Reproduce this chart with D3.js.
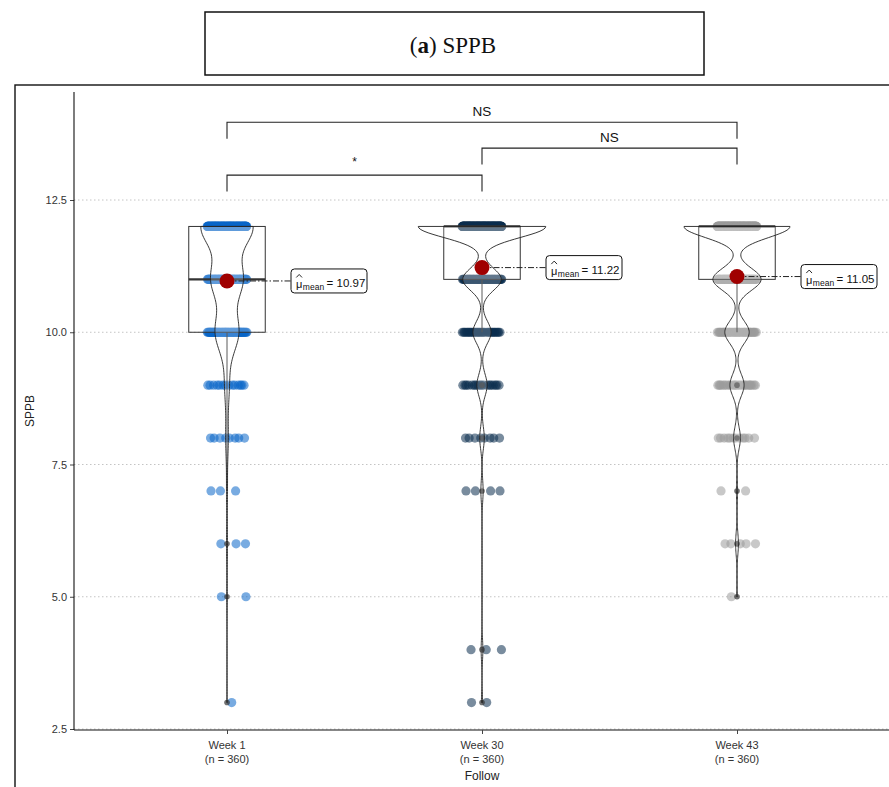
<!DOCTYPE html>
<html><head><meta charset="utf-8">
<script src="https://cdn.jsdelivr.net/npm/d3@7"></script>
<style>body{margin:0;background:#fff} svg{display:block}</style>
</head><body>
<svg id="c" width="889" height="787"></svg>
<script>
// ---------------- data ----------------
const categories = ["Week 1", "Week 30", "Week 43"];
const sampleSizes = [360, 360, 360];
const scoreLevels = [3, 4, 5, 6, 7, 8, 9, 10, 11, 12];
const countsWeek1  = [1, 0, 2, 3, 3, 8, 14, 72, 97, 160];
const countsWeek30 = [2, 3, 0, 0, 4, 8, 18, 32, 68, 225];
const countsWeek43 = [0, 0, 1, 5, 2, 12, 25, 43, 85, 187];
const yTicks = [2.5, 5.0, 7.5, 10.0, 12.5];
const comparisonPairs = [["Week 1", "Week 43"], ["Week 30", "Week 43"], ["Week 1", "Week 30"]];
const comparisonLabels = ["NS", "NS", "*"];
const groupColors = ["#0A66C8", "#0B2D4F", "#9A9A9A"];

// ---------------- setup ----------------
const svg = d3.select("#c");
const sans = "'Liberation Sans', Arial, sans-serif";
const countsAll = [countsWeek1, countsWeek30, countsWeek43];

const x = d3.scalePoint().domain(categories).range([74, 890]).padding(0.6);
const step = x.step();
const y = d3.scaleLinear().domain([2.5, 12.5]).range([729, 200]);

// title box
svg.append("rect").attr("x", 205).attr("y", 12).attr("width", 499).attr("height", 63)
  .attr("fill", "none").attr("stroke", "#111").attr("stroke-width", 1.5);
const title = svg.append("text").attr("x", 453).attr("y", 53).attr("text-anchor", "middle")
  .attr("font-family", "'Liberation Serif', 'DejaVu Serif', serif").attr("font-size", 23).attr("fill", "#111");
title.append("tspan").text("(");
title.append("tspan").attr("font-weight", "bold").text("a");
title.append("tspan").text(") SPPB");

// outer frame
svg.append("rect").attr("x", 15).attr("y", 85).attr("width", 900).attr("height", 760)
  .attr("fill", "none").attr("stroke", "#111").attr("stroke-width", 1.4);

// grid
svg.append("g").selectAll("line").data(yTicks).join("line")
  .attr("x1", 74).attr("x2", 890).attr("y1", d => y(d)).attr("y2", d => y(d))
  .attr("stroke", "#c4c4c4").attr("stroke-width", 1).attr("stroke-dasharray", "1.5,2.5");

// axes
const yAxis = svg.append("g").attr("transform", "translate(74,0)")
  .call(d3.axisLeft(y).tickValues(yTicks).tickFormat(d3.format(".1f")).tickSize(4).tickPadding(3));
yAxis.select(".domain").remove();
yAxis.selectAll("line").attr("stroke", "#444");
yAxis.selectAll("text").attr("font-family", sans).attr("font-size", 11).attr("fill", "#333");
svg.append("line").attr("x1", 74).attr("x2", 74).attr("y1", 92).attr("y2", 730).attr("stroke", "#111").attr("stroke-width", 1.1);
svg.append("line").attr("x1", 74).attr("x2", 890).attr("y1", 730).attr("y2", 730).attr("stroke", "#111").attr("stroke-width", 1.1);

const xAxis = svg.append("g").attr("transform", "translate(0,730)")
  .call(d3.axisBottom(x).tickSize(4).tickFormat(""));
xAxis.select(".domain").remove();
xAxis.selectAll("line").attr("stroke", "#444");
categories.forEach((c, i) => {
  const t = svg.append("text").attr("x", x(c)).attr("text-anchor", "middle")
    .attr("font-family", sans).attr("font-size", 11).attr("fill", "#333");
  t.append("tspan").attr("x", x(c)).attr("y", 749).text(c);
  t.append("tspan").attr("x", x(c)).attr("y", 763).text(`(n = ${sampleSizes[i]})`);
});
svg.append("text").attr("x", x("Week 30")).attr("y", 780).attr("text-anchor", "middle")
  .attr("font-family", sans).attr("font-size", 12).attr("fill", "#222").text("Follow");
svg.append("text").attr("transform", "translate(34,411) rotate(-90)").attr("text-anchor", "middle")
  .attr("font-family", sans).attr("font-size", 12).attr("fill", "#222").text("SPPB");

// ---------------- stats ----------------
const groups = categories.map((c, gi) => {
  const vals = [];
  scoreLevels.forEach((v, k) => { for (let j = 0; j < countsAll[gi][k]; j++) vals.push(v); });
  vals.sort(d3.ascending);
  const q1 = d3.quantileSorted(vals, 0.25), med = d3.quantileSorted(vals, 0.5), q3 = d3.quantileSorted(vals, 0.75);
  const iqr = q3 - q1;
  const lo = d3.min(vals.filter(v => v >= q1 - 1.5 * iqr));
  const hi = d3.max(vals.filter(v => v <= q3 + 1.5 * iqr));
  const sd = d3.deviation(vals);
  const bw = 0.9 * Math.min(sd, iqr / 1.34) * Math.pow(vals.length, -0.2);
  const mn = d3.min(vals), mx = d3.max(vals);
  const grid = d3.range(0, 301).map(i => mn + (mx - mn) * i / 300);
  const dens = grid.map(t => d3.mean(vals, v => Math.exp(-0.5 * ((t - v) / bw) ** 2)) / (bw * Math.sqrt(2 * Math.PI)));
  return { c, gi, vals, q1, med, q3, lo, hi, mean: d3.mean(vals), grid, dens,
           outliers: scoreLevels.filter((v, k) => countsAll[gi][k] > 0 && (v < lo || v > hi)) };
});
const densMax = d3.max(groups, g => d3.max(g.dens));

// ---------------- jittered points ----------------
const jitterHalf = step * 0.078;
const pts = [];
groups.forEach(g => {
  scoreLevels.forEach((v, k) => {
    const n = countsAll[g.gi][k];
    for (let j = 0; j < n; j++) {
      const u = ((j + 1) * 0.6180339887 + k * 0.37) % 1;
      pts.push({ gi: g.gi, cx: x(g.c) + (u * 2 - 1) * jitterHalf, v });
    }
  });
});
svg.append("g").selectAll("circle").data(pts).join("circle")
  .attr("cx", d => d.cx).attr("cy", d => y(d.v)).attr("r", 4.6)
  .attr("fill", d => groupColors[d.gi]).attr("fill-opacity", 0.55);

// ---------------- boxplots ----------------
const boxHalf = step * 0.15;
const bx = svg.append("g");
groups.forEach(g => {
  const cx = x(g.c);
  bx.append("line").attr("x1", cx).attr("x2", cx).attr("y1", y(g.q1)).attr("y2", y(g.lo)).attr("stroke", "#333").attr("stroke-width", 1);
  bx.append("line").attr("x1", cx).attr("x2", cx).attr("y1", y(g.q3)).attr("y2", y(g.hi)).attr("stroke", "#333").attr("stroke-width", 1);
  bx.append("rect").attr("x", cx - boxHalf).attr("width", boxHalf * 2)
    .attr("y", y(g.q3)).attr("height", y(g.q1) - y(g.q3))
    .attr("fill", "#fff").attr("fill-opacity", 0.2).attr("stroke", "#333").attr("stroke-width", 1);
  bx.append("line").attr("x1", cx - boxHalf).attr("x2", cx + boxHalf).attr("y1", y(g.med)).attr("y2", y(g.med))
    .attr("stroke", "#333").attr("stroke-width", 2.2);
  g.outliers.forEach(v => {
    bx.append("circle").attr("cx", cx).attr("cy", y(v)).attr("r", 2.8).attr("fill", "#333").attr("fill-opacity", 0.7);
  });
});

// ---------------- violins ----------------
const violinHalf = step * 0.25;
groups.forEach(g => {
  const cx = x(g.c);
  const area = d3.area()
    .x0((d, i) => cx - g.dens[i] / densMax * violinHalf)
    .x1((d, i) => cx + g.dens[i] / densMax * violinHalf)
    .y(d => y(d));
  svg.append("path").attr("d", area(g.grid) + "")
    .attr("fill", "#fff").attr("fill-opacity", 0.2).attr("stroke", "#222").attr("stroke-width", 0.9);
});

// ---------------- means + labels ----------------
groups.forEach(g => {
  const cx = x(g.c), my = y(g.mean);
  const lx = cx + 64, lw = 76, lh = 24, ly = my - lh / 2;
  svg.append("line").attr("x1", cx).attr("x2", lx).attr("y1", my).attr("y2", my)
    .attr("stroke", "#222").attr("stroke-width", 1).attr("stroke-dasharray", "6,2,1.5,2");
  svg.append("circle").attr("cx", cx).attr("cy", my).attr("r", 7.5).attr("fill", "#A00000");
  svg.append("rect").attr("x", lx).attr("y", ly).attr("width", lw).attr("height", lh).attr("rx", 3.5)
    .attr("fill", "#fff").attr("stroke", "#111").attr("stroke-width", 1);
  const f = svg.append("g").attr("font-family", sans).attr("fill", "#111");
  const mu = f.append("text").attr("x", lx + 5).attr("y", ly + 19).attr("font-size", 11).text("μ");
  const muW = mu.node().getComputedTextLength();
  f.append("path").attr("d", `M${lx + 5.3},${ly + 8.5}l${muW / 2 - 0.3},-3l${muW / 2 - 0.3},3`)
    .attr("fill", "none").attr("stroke", "#111").attr("stroke-width", 0.9);
  const sub = f.append("text").attr("x", lx + 5 + muW + 0.5).attr("y", ly + 21.5).attr("font-size", 8.5).text("mean");
  const subW = sub.node().getComputedTextLength();
  f.append("text").attr("x", lx + 5 + muW + 0.5 + subW + 2.5).attr("y", ly + 18.5).attr("font-size", 11.5)
    .text("= " + d3.format(".2f")(g.mean));
});

// ---------------- significance brackets ----------------
const bracketTop = [13.97, 13.48, 12.97];
const tipDrop = 0.31;
const br = svg.append("g");
comparisonPairs.forEach((p, i) => {
  const x1 = x(p[0]), x2 = x(p[1]), yl = y(bracketTop[i]), yb = y(bracketTop[i] - tipDrop);
  br.append("path").attr("d", `M${x1},${yb}V${yl}H${x2}V${yb}`)
    .attr("fill", "none").attr("stroke", "#222").attr("stroke-width", 1.1);
  const lab = comparisonLabels[i];
  br.append("text").attr("x", (x1 + x2) / 2).attr("y", lab === "*" ? yl - 9 : yl - 6)
    .attr("text-anchor", "middle").attr("font-family", sans)
    .attr("font-size", lab === "*" ? 12 : 13.5).attr("fill", "#111").text(lab);
});
</script>
</body></html>
